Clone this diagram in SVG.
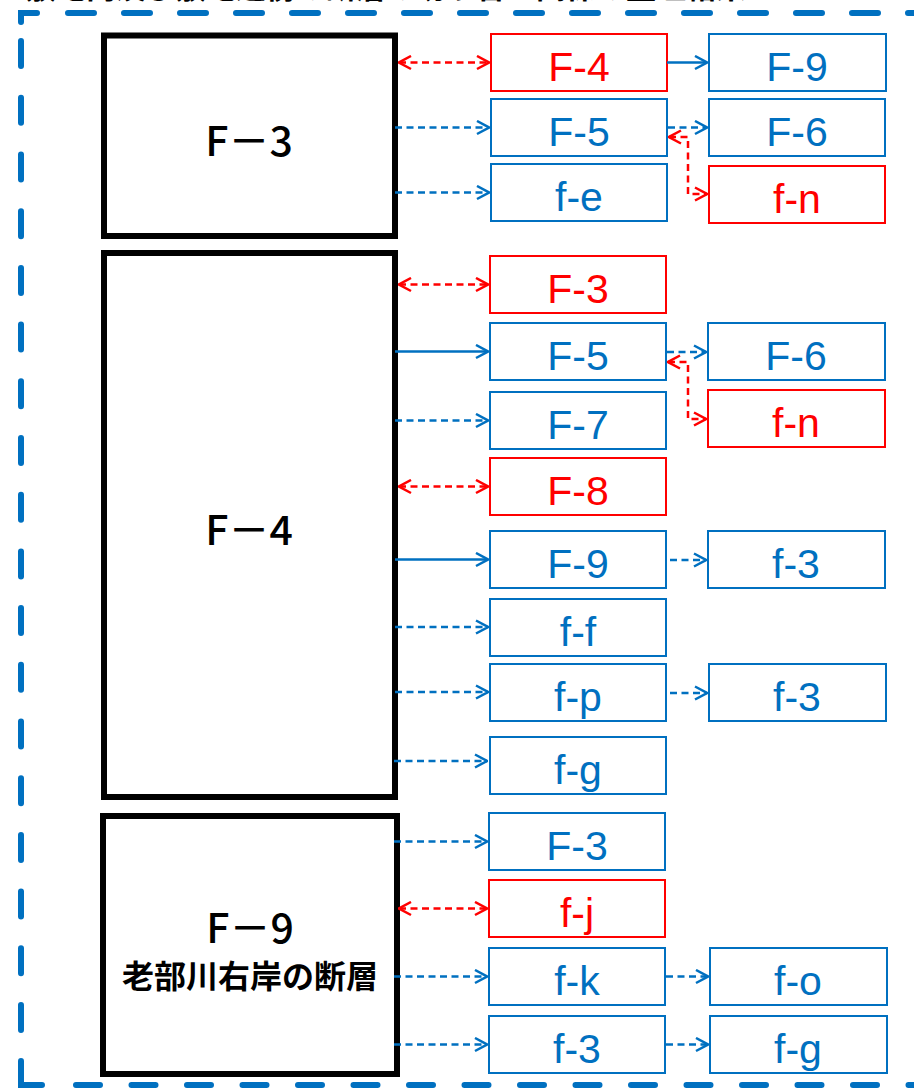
<svg xmlns="http://www.w3.org/2000/svg" width="914" height="1089" viewBox="0 0 914 1089">
<defs>
<style>
.frame{fill:none;stroke:#0070C0;stroke-width:6;stroke-linecap:round;}
.big{fill:#fff;stroke:#000;stroke-width:6;}
.bigt{font-family:"Noto Sans CJK JP","Liberation Sans",sans-serif;font-weight:500;font-size:41px;fill:#000;text-anchor:middle;}
.bigs{font-family:"Noto Sans CJK JP",sans-serif;font-weight:bold;font-size:32px;fill:#000;text-anchor:middle;}
.bb{fill:#fff;stroke:#0070C0;stroke-width:2;}
.rb{fill:#fff;stroke:#FF0000;stroke-width:2;}
.bt{font-family:"Liberation Sans",Arial,sans-serif;font-size:41px;fill:#0070C0;text-anchor:middle;}
.rt{font-family:"Liberation Sans",Arial,sans-serif;font-size:41px;fill:#FF0000;text-anchor:middle;}
.cb{fill:none;stroke:#0070C0;stroke-width:2.5;}
.cr{fill:none;stroke:#FF0000;stroke-width:2.5;}
.dash{stroke-dasharray:7 4.5;}
.title{font-family:"Noto Sans CJK JP",sans-serif;font-weight:bold;font-size:30px;fill:#000;}
</style>
<marker id="ab" viewBox="0 0 14 16" refX="13" refY="8" markerWidth="14" markerHeight="16" markerUnits="userSpaceOnUse" orient="auto-start-reverse">
<path d="M1,1.5 L13,8 L1,14.5" fill="none" stroke="#0070C0" stroke-width="2.5" stroke-dasharray="none"/>
</marker>
<marker id="ar" viewBox="0 0 14 16" refX="13" refY="8" markerWidth="14" markerHeight="16" markerUnits="userSpaceOnUse" orient="auto-start-reverse">
<path d="M1,1.5 L13,8 L1,14.5" fill="none" stroke="#FF0000" stroke-width="2.5" stroke-dasharray="none"/>
</marker>
</defs>
<rect width="914" height="1089" fill="#fff"/>
<text class="title" x="26" y="-2">敷地内及び敷地近傍の断層の切り合い関係の整理結果</text>
<g id="frame">
<path class="frame" d="M37,13 L21,13 L21,22"/>
<path class="frame" d="M68,13 L960,13" stroke-dasharray="26 30"/>
<path class="frame" d="M21,1030 L21,40" stroke-dasharray="25 31.7"/>
<path class="frame" d="M42,1085 L21,1085 L21,1061"/>
<path class="frame" d="M76,1085 L960,1085" stroke-dasharray="24 31.5"/>
</g>
<g id="node-F3-main"><rect class="big" x="104" y="35.5" width="291" height="200.5"/><text class="bigt" x="249" y="156">F－3</text></g>
<g id="node-F4-main"><rect class="big" x="104" y="253" width="291" height="544"/><text class="bigt" x="249" y="545">F－4</text></g>
<g id="node-F9-main"><rect class="big" x="103" y="816" width="294" height="258"/><text class="bigt" x="250" y="943">F－9</text><text class="bigs" x="250" y="988">老部川右岸の断層</text></g>

<g id="g1-F4"><rect class="rb" x="491" y="34" width="176" height="57"/><text class="rt" x="579" y="81">F-4</text></g>
<g id="g1-F5"><rect class="bb" x="491" y="99" width="176" height="57"/><text class="bt" x="579" y="146">F-5</text></g>
<g id="g1-fe"><rect class="bb" x="491" y="164" width="176" height="57"/><text class="bt" x="579" y="211">f-e</text></g>
<g id="g1-F9"><rect class="bb" x="709" y="34" width="177" height="57"/><text class="bt" x="797" y="81">F-9</text></g>
<g id="g1-F6"><rect class="bb" x="709" y="99" width="176" height="57"/><text class="bt" x="797" y="146">F-6</text></g>
<g id="g1-fn"><rect class="rb" x="709" y="166" width="176" height="57"/><text class="rt" x="797" y="213">f-n</text></g>

<g id="g2-F3"><rect class="rb" x="490" y="256" width="176" height="57"/><text class="rt" x="578" y="303">F-3</text></g>
<g id="g2-F5"><rect class="bb" x="490" y="323" width="176" height="57"/><text class="bt" x="578" y="370">F-5</text></g>
<g id="g2-F7"><rect class="bb" x="490" y="392" width="176" height="57"/><text class="bt" x="578" y="439">F-7</text></g>
<g id="g2-F8"><rect class="rb" x="490" y="458" width="176" height="57"/><text class="rt" x="578" y="505">F-8</text></g>
<g id="g2-F9"><rect class="bb" x="490" y="531" width="176" height="57"/><text class="bt" x="578" y="578">F-9</text></g>
<g id="g2-ff"><rect class="bb" x="490" y="599" width="176" height="57"/><text class="bt" x="578" y="646">f-f</text></g>
<g id="g2-fp"><rect class="bb" x="490" y="664" width="176" height="57"/><text class="bt" x="578" y="711">f-p</text></g>
<g id="g2-fg"><rect class="bb" x="490" y="737" width="176" height="57"/><text class="bt" x="578" y="784">f-g</text></g>
<g id="g2-F6"><rect class="bb" x="708" y="323" width="177" height="57"/><text class="bt" x="796" y="370">F-6</text></g>
<g id="g2-fn"><rect class="rb" x="708" y="390" width="177" height="57"/><text class="rt" x="796" y="437">f-n</text></g>
<g id="g2-f3a"><rect class="bb" x="708" y="531" width="177" height="57"/><text class="bt" x="796" y="578">f-3</text></g>
<g id="g2-f3b"><rect class="bb" x="709" y="664" width="177" height="57"/><text class="bt" x="797" y="711">f-3</text></g>

<g id="g3-F3"><rect class="bb" x="489" y="813" width="176" height="57"/><text class="bt" x="577" y="860">F-3</text></g>
<g id="g3-fj"><rect class="rb" x="489" y="880" width="176" height="57"/><text class="rt" x="577" y="927">f-j</text></g>
<g id="g3-fk"><rect class="bb" x="489" y="948" width="176" height="57"/><text class="bt" x="577" y="995">f-k</text></g>
<g id="g3-f3"><rect class="bb" x="489" y="1016" width="176" height="57"/><text class="bt" x="577" y="1063">f-3</text></g>
<g id="g3-fo"><rect class="bb" x="710" y="948" width="177" height="57"/><text class="bt" x="798" y="995">f-o</text></g>
<g id="g3-fg"><rect class="bb" x="710" y="1016" width="177" height="57"/><text class="bt" x="798" y="1063">f-g</text></g>

<g id="connectors">
<path class="cr dash" d="M399,62.5 H489" marker-start="url(#ar)" marker-end="url(#ar)"/>
<path class="cb dash" d="M395,127.5 H489" marker-end="url(#ab)"/>
<path class="cb dash" d="M395,192.5 H489" marker-end="url(#ab)"/>
<path class="cb" d="M667,62.5 H707" marker-end="url(#ab)"/>
<path class="cb dash" d="M668,127.5 H707" marker-end="url(#ab)"/>
<path class="cr dash" d="M669,137 H688 V194 H707" marker-start="url(#ar)" marker-end="url(#ar)"/>

<path class="cr dash" d="M399,284.5 H488" marker-start="url(#ar)" marker-end="url(#ar)"/>
<path class="cb" d="M395,351.5 H488" marker-end="url(#ab)"/>
<path class="cb dash" d="M395,420.5 H488" marker-end="url(#ab)"/>
<path class="cr dash" d="M399,486.5 H488" marker-start="url(#ar)" marker-end="url(#ar)"/>
<path class="cb" d="M395,559.5 H488" marker-end="url(#ab)"/>
<path class="cb dash" d="M395,627 H488" marker-end="url(#ab)"/>
<path class="cb dash" d="M395,692 H488" marker-end="url(#ab)"/>
<path class="cb dash" d="M394,761 H487" marker-end="url(#ab)"/>
<path class="cb dash" d="M667,352 H706" marker-end="url(#ab)"/>
<path class="cr dash" d="M668,362 H688 V419 H706" marker-start="url(#ar)" marker-end="url(#ar)"/>
<path class="cb dash" d="M670,560 H706" marker-end="url(#ab)"/>
<path class="cb dash" d="M670,693 H707" marker-end="url(#ab)"/>

<path class="cb dash" d="M394,841.5 H487" marker-end="url(#ab)"/>
<path class="cr dash" d="M399,908.5 H487" marker-start="url(#ar)" marker-end="url(#ar)"/>
<path class="cb dash" d="M394,976.5 H487" marker-end="url(#ab)"/>
<path class="cb dash" d="M394,1044.5 H487" marker-end="url(#ab)"/>
<path class="cb dash" d="M666,976.5 H708" marker-end="url(#ab)"/>
<path class="cb dash" d="M666,1044.5 H708" marker-end="url(#ab)"/>
</g>
</svg>
